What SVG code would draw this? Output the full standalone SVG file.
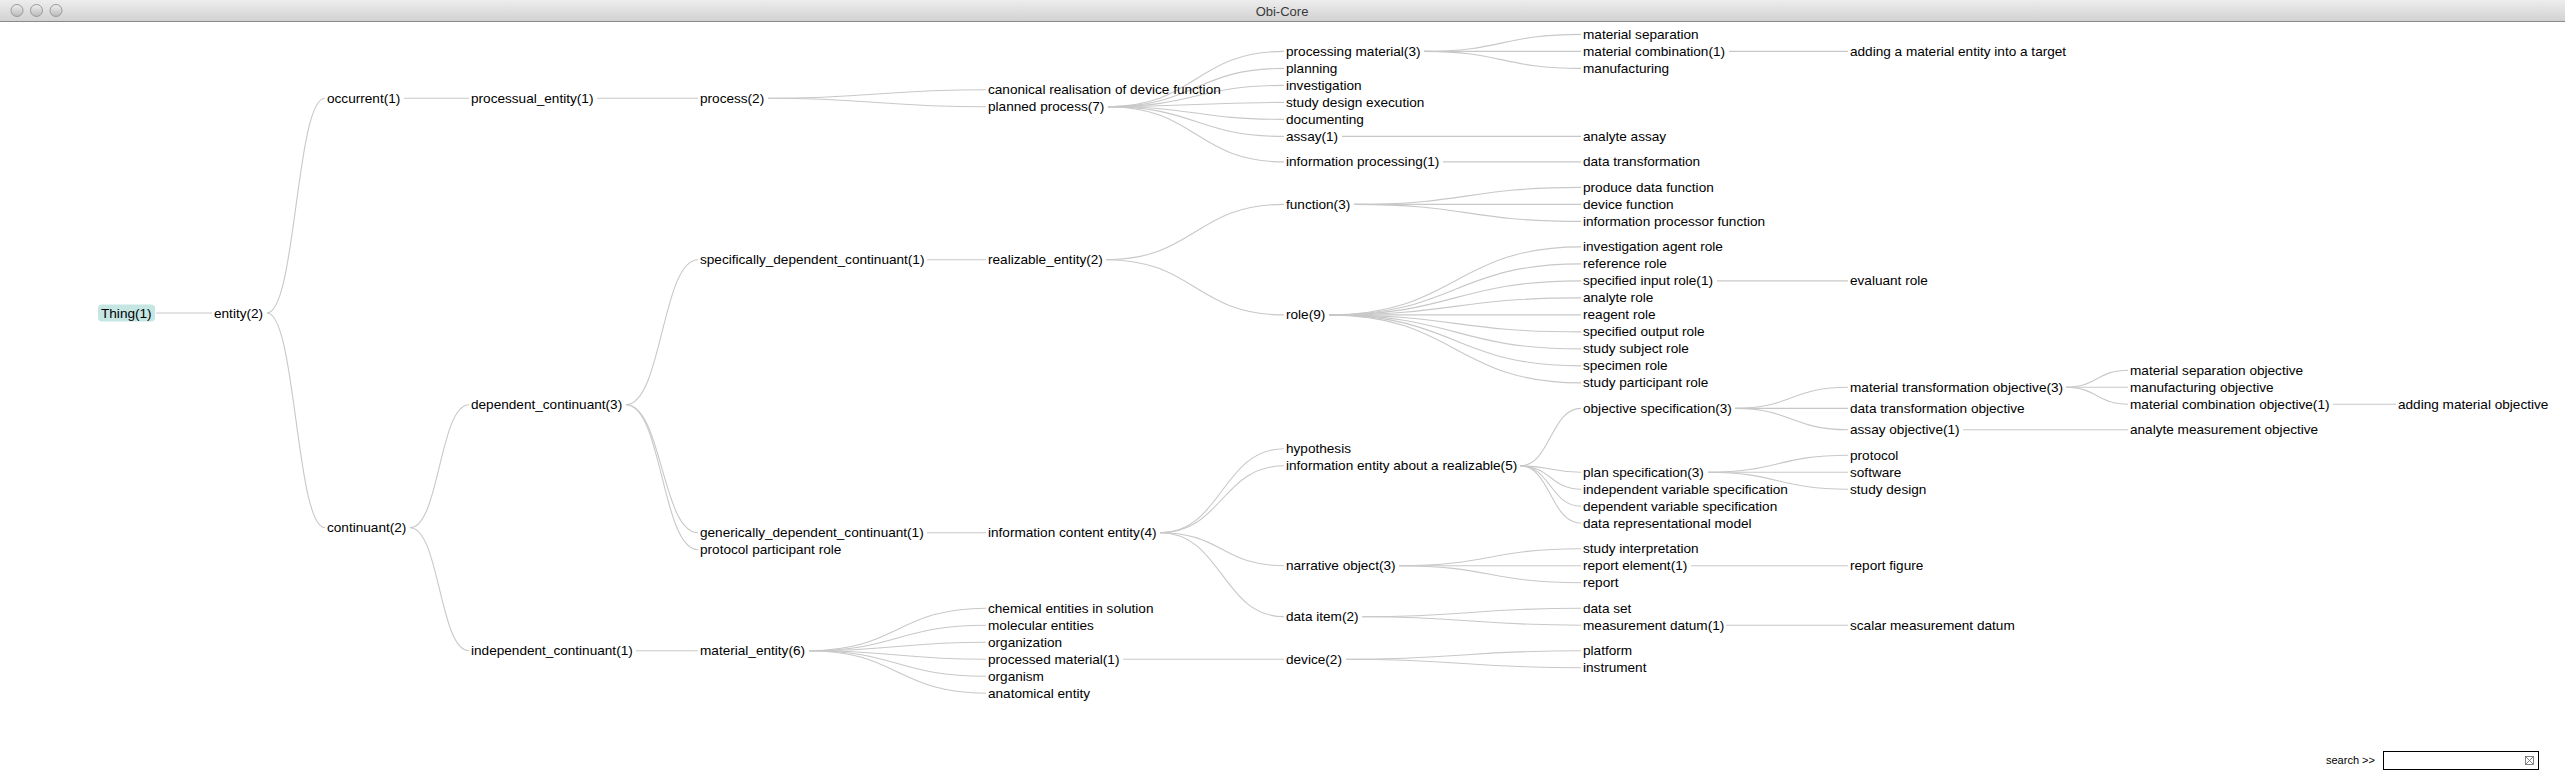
<svg xmlns="http://www.w3.org/2000/svg" width="2565" height="774" viewBox="0 0 2565 774">
<defs>
<linearGradient id="tb" x1="0" y1="0" x2="0" y2="1"><stop offset="0" stop-color="#ededed"/><stop offset="1" stop-color="#d2d2d2"/></linearGradient>
<linearGradient id="btn" x1="0" y1="0" x2="0" y2="1"><stop offset="0" stop-color="#f0f0f0"/><stop offset="1" stop-color="#b9b9b9"/></linearGradient>
<style>
text{font-family:"Liberation Sans",Arial,sans-serif;font-size:13.6px;fill:#000;dominant-baseline:central}
.title{font-size:13px;fill:#3a3a3a;text-anchor:middle}
.search{font-size:11px}
#links path{fill:none;stroke:#c8c8c8;stroke-width:1.1}
</style>
</defs>
<rect width="2565" height="774" fill="#fff"/>
<g id="titlebar">
<rect x="0" y="0" width="2565" height="21" fill="url(#tb)"/>
<line x1="0" y1="21.5" x2="2565" y2="21.5" stroke="#8a8a8a" stroke-width="1.2"/>
<circle cx="17" cy="10.5" r="6" fill="url(#btn)" stroke="#9a9a9a"/>
<circle cx="36.5" cy="10.5" r="6" fill="url(#btn)" stroke="#9a9a9a"/>
<circle cx="56" cy="10.5" r="6" fill="url(#btn)" stroke="#9a9a9a"/>
<text class="title" x="1282" y="11">Obi-Core</text>
</g>
<g id="links">
<path d="M156,313 L212,313"/>
<path d="M267,313 C296,313 296,98.2 325,98.2"/>
<path d="M267,313 C296,313 296,527.7 325,527.7"/>
<path d="M404,98.2 L469,98.2"/>
<path d="M597,98.2 L698,98.2"/>
<path d="M768,98.2 C877,98.2 877,89.7 986,89.7"/>
<path d="M768,98.2 C877,98.2 877,106.7 986,106.7"/>
<path d="M1108,106.7 C1196,106.7 1196,51.4 1284,51.4"/>
<path d="M1108,106.7 C1196,106.7 1196,68.4 1284,68.4"/>
<path d="M1108,106.7 C1196,106.7 1196,85.4 1284,85.4"/>
<path d="M1108,106.7 C1196,106.7 1196,102.4 1284,102.4"/>
<path d="M1108,106.7 C1196,106.7 1196,119.4 1284,119.4"/>
<path d="M1108,106.7 C1196,106.7 1196,136.4 1284,136.4"/>
<path d="M1108,106.7 C1196,106.7 1196,161.9 1284,161.9"/>
<path d="M1424,51.4 C1502.5,51.4 1502.5,34.4 1581,34.4"/>
<path d="M1424,51.4 L1581,51.4"/>
<path d="M1424,51.4 C1502.5,51.4 1502.5,68.4 1581,68.4"/>
<path d="M1729,51.4 L1848,51.4"/>
<path d="M1342,136.4 L1581,136.4"/>
<path d="M1443,161.9 L1581,161.9"/>
<path d="M410,527.7 C439.5,527.7 439.5,404.7 469,404.7"/>
<path d="M410,527.7 C439.5,527.7 439.5,650.7 469,650.7"/>
<path d="M626,404.7 C662,404.7 662,259.7 698,259.7"/>
<path d="M626,404.7 C662,404.7 662,532.7 698,532.7"/>
<path d="M626,404.7 C662,404.7 662,549.7 698,549.7"/>
<path d="M927,259.7 L986,259.7"/>
<path d="M1106,259.7 C1195,259.7 1195,204.4 1284,204.4"/>
<path d="M1106,259.7 C1195,259.7 1195,314.9 1284,314.9"/>
<path d="M1354,204.4 C1467.5,204.4 1467.5,187.4 1581,187.4"/>
<path d="M1354,204.4 L1581,204.4"/>
<path d="M1354,204.4 C1467.5,204.4 1467.5,221.4 1581,221.4"/>
<path d="M1329,314.9 C1455,314.9 1455,246.9 1581,246.9"/>
<path d="M1329,314.9 C1455,314.9 1455,263.9 1581,263.9"/>
<path d="M1329,314.9 C1455,314.9 1455,280.9 1581,280.9"/>
<path d="M1329,314.9 C1455,314.9 1455,297.9 1581,297.9"/>
<path d="M1329,314.9 L1581,314.9"/>
<path d="M1329,314.9 C1455,314.9 1455,331.9 1581,331.9"/>
<path d="M1329,314.9 C1455,314.9 1455,348.9 1581,348.9"/>
<path d="M1329,314.9 C1455,314.9 1455,365.9 1581,365.9"/>
<path d="M1329,314.9 C1455,314.9 1455,382.9 1581,382.9"/>
<path d="M1717,280.9 L1848,280.9"/>
<path d="M927,532.7 L986,532.7"/>
<path d="M1160,532.7 C1222,532.7 1222,448.8 1284,448.8"/>
<path d="M1160,532.7 C1222,532.7 1222,465.8 1284,465.8"/>
<path d="M1160,532.7 C1222,532.7 1222,565.7 1284,565.7"/>
<path d="M1160,532.7 C1222,532.7 1222,616.7 1284,616.7"/>
<path d="M1520,465.8 C1550.5,465.8 1550.5,408.4 1581,408.4"/>
<path d="M1520,465.8 C1550.5,465.8 1550.5,472.2 1581,472.2"/>
<path d="M1520,465.8 C1550.5,465.8 1550.5,489.2 1581,489.2"/>
<path d="M1520,465.8 C1550.5,465.8 1550.5,506.2 1581,506.2"/>
<path d="M1520,465.8 C1550.5,465.8 1550.5,523.2 1581,523.2"/>
<path d="M1735,408.4 C1791.5,408.4 1791.5,387.2 1848,387.2"/>
<path d="M1735,408.4 L1848,408.4"/>
<path d="M1735,408.4 C1791.5,408.4 1791.5,429.7 1848,429.7"/>
<path d="M2066,387.2 C2097,387.2 2097,370.2 2128,370.2"/>
<path d="M2066,387.2 L2128,387.2"/>
<path d="M2066,387.2 C2097,387.2 2097,404.2 2128,404.2"/>
<path d="M2333,404.2 L2396,404.2"/>
<path d="M1963,429.7 L2128,429.7"/>
<path d="M1708,472.2 C1778,472.2 1778,455.2 1848,455.2"/>
<path d="M1708,472.2 L1848,472.2"/>
<path d="M1708,472.2 C1778,472.2 1778,489.2 1848,489.2"/>
<path d="M1399,565.7 C1490,565.7 1490,548.7 1581,548.7"/>
<path d="M1399,565.7 L1581,565.7"/>
<path d="M1399,565.7 C1490,565.7 1490,582.7 1581,582.7"/>
<path d="M1691,565.7 L1848,565.7"/>
<path d="M1362,616.7 C1471.5,616.7 1471.5,608.2 1581,608.2"/>
<path d="M1362,616.7 C1471.5,616.7 1471.5,625.2 1581,625.2"/>
<path d="M1726,625.2 L1848,625.2"/>
<path d="M636,650.7 L698,650.7"/>
<path d="M809,650.7 C897.5,650.7 897.5,608.2 986,608.2"/>
<path d="M809,650.7 C897.5,650.7 897.5,625.2 986,625.2"/>
<path d="M809,650.7 C897.5,650.7 897.5,642.2 986,642.2"/>
<path d="M809,650.7 C897.5,650.7 897.5,659.2 986,659.2"/>
<path d="M809,650.7 C897.5,650.7 897.5,676.2 986,676.2"/>
<path d="M809,650.7 C897.5,650.7 897.5,693.2 986,693.2"/>
<path d="M1123,659.2 L1284,659.2"/>
<path d="M1346,659.2 C1463.5,659.2 1463.5,650.7 1581,650.7"/>
<path d="M1346,659.2 C1463.5,659.2 1463.5,667.7 1581,667.7"/>
</g>
<g id="n-thing"><rect x="98" y="304.5" width="57" height="17" rx="4" fill="#c6e6e4"/><text x="101" y="313">Thing(1)</text></g>
<g id="n-entity"><text x="214" y="313">entity(2)</text></g>
<g id="n-occurrent"><text x="327" y="98.2">occurrent(1)</text></g>
<g id="n-continuant"><text x="327" y="527.7">continuant(2)</text></g>
<g id="n-processual-entity"><text x="471" y="98.2">processual_entity(1)</text></g>
<g id="n-dependent-continuant"><text x="471" y="404.7">dependent_continuant(3)</text></g>
<g id="n-independent-continuant"><text x="471" y="650.7">independent_continuant(1)</text></g>
<g id="n-process"><text x="700" y="98.2">process(2)</text></g>
<g id="n-specifically-dependent-continuant"><text x="700" y="259.7">specifically_dependent_continuant(1)</text></g>
<g id="n-generically-dependent-continuant"><text x="700" y="532.7">generically_dependent_continuant(1)</text></g>
<g id="n-protocol-participant-role"><text x="700" y="549.7">protocol participant role</text></g>
<g id="n-material-entity"><text x="700" y="650.7">material_entity(6)</text></g>
<g id="n-canonical-realisation"><text x="988" y="89.7">canonical realisation of device function</text></g>
<g id="n-planned-process"><text x="988" y="106.7">planned process(7)</text></g>
<g id="n-realizable-entity"><text x="988" y="259.7">realizable_entity(2)</text></g>
<g id="n-information-content-entity"><text x="988" y="532.7">information content entity(4)</text></g>
<g id="n-chemical-entities"><text x="988" y="608.2">chemical entities in solution</text></g>
<g id="n-molecular-entities"><text x="988" y="625.2">molecular entities</text></g>
<g id="n-organization"><text x="988" y="642.2">organization</text></g>
<g id="n-processed-material"><text x="988" y="659.2">processed material(1)</text></g>
<g id="n-organism"><text x="988" y="676.2">organism</text></g>
<g id="n-anatomical-entity"><text x="988" y="693.2">anatomical entity</text></g>
<g id="n-processing-material"><text x="1286" y="51.4">processing material(3)</text></g>
<g id="n-planning"><text x="1286" y="68.4">planning</text></g>
<g id="n-investigation"><text x="1286" y="85.4">investigation</text></g>
<g id="n-study-design-execution"><text x="1286" y="102.4">study design execution</text></g>
<g id="n-documenting"><text x="1286" y="119.4">documenting</text></g>
<g id="n-assay"><text x="1286" y="136.4">assay(1)</text></g>
<g id="n-information-processing"><text x="1286" y="161.9">information processing(1)</text></g>
<g id="n-function"><text x="1286" y="204.4">function(3)</text></g>
<g id="n-role"><text x="1286" y="314.9">role(9)</text></g>
<g id="n-hypothesis"><text x="1286" y="448.8">hypothesis</text></g>
<g id="n-info-entity-realizable"><text x="1286" y="465.8">information entity about a realizable(5)</text></g>
<g id="n-narrative-object"><text x="1286" y="565.7">narrative object(3)</text></g>
<g id="n-data-item"><text x="1286" y="616.7">data item(2)</text></g>
<g id="n-device"><text x="1286" y="659.2">device(2)</text></g>
<g id="n-material-separation"><text x="1583" y="34.4">material separation</text></g>
<g id="n-material-combination"><text x="1583" y="51.4">material combination(1)</text></g>
<g id="n-manufacturing"><text x="1583" y="68.4">manufacturing</text></g>
<g id="n-analyte-assay"><text x="1583" y="136.4">analyte assay</text></g>
<g id="n-data-transformation"><text x="1583" y="161.9">data transformation</text></g>
<g id="n-produce-data-function"><text x="1583" y="187.4">produce data function</text></g>
<g id="n-device-function"><text x="1583" y="204.4">device function</text></g>
<g id="n-information-processor-function"><text x="1583" y="221.4">information processor function</text></g>
<g id="n-investigation-agent-role"><text x="1583" y="246.9">investigation agent role</text></g>
<g id="n-reference-role"><text x="1583" y="263.9">reference role</text></g>
<g id="n-specified-input-role"><text x="1583" y="280.9">specified input role(1)</text></g>
<g id="n-analyte-role"><text x="1583" y="297.9">analyte role</text></g>
<g id="n-reagent-role"><text x="1583" y="314.9">reagent role</text></g>
<g id="n-specified-output-role"><text x="1583" y="331.9">specified output role</text></g>
<g id="n-study-subject-role"><text x="1583" y="348.9">study subject role</text></g>
<g id="n-specimen-role"><text x="1583" y="365.9">specimen role</text></g>
<g id="n-study-participant-role"><text x="1583" y="382.9">study participant role</text></g>
<g id="n-objective-specification"><text x="1583" y="408.4">objective specification(3)</text></g>
<g id="n-plan-specification"><text x="1583" y="472.2">plan specification(3)</text></g>
<g id="n-independent-variable-specification"><text x="1583" y="489.2">independent variable specification</text></g>
<g id="n-dependent-variable-specification"><text x="1583" y="506.2">dependent variable specification</text></g>
<g id="n-data-representational-model"><text x="1583" y="523.2">data representational model</text></g>
<g id="n-study-interpretation"><text x="1583" y="548.7">study interpretation</text></g>
<g id="n-report-element"><text x="1583" y="565.7">report element(1)</text></g>
<g id="n-report"><text x="1583" y="582.7">report</text></g>
<g id="n-data-set"><text x="1583" y="608.2">data set</text></g>
<g id="n-measurement-datum"><text x="1583" y="625.2">measurement datum(1)</text></g>
<g id="n-platform"><text x="1583" y="650.7">platform</text></g>
<g id="n-instrument"><text x="1583" y="667.7">instrument</text></g>
<g id="n-adding-material-entity"><text x="1850" y="51.4">adding a material entity into a target</text></g>
<g id="n-evaluant-role"><text x="1850" y="280.9">evaluant role</text></g>
<g id="n-material-transformation-objective"><text x="1850" y="387.2">material transformation objective(3)</text></g>
<g id="n-data-transformation-objective"><text x="1850" y="408.4">data transformation objective</text></g>
<g id="n-assay-objective"><text x="1850" y="429.7">assay objective(1)</text></g>
<g id="n-protocol"><text x="1850" y="455.2">protocol</text></g>
<g id="n-software"><text x="1850" y="472.2">software</text></g>
<g id="n-study-design"><text x="1850" y="489.2">study design</text></g>
<g id="n-report-figure"><text x="1850" y="565.7">report figure</text></g>
<g id="n-scalar-measurement-datum"><text x="1850" y="625.2">scalar measurement datum</text></g>
<g id="n-material-separation-objective"><text x="2130" y="370.2">material separation objective</text></g>
<g id="n-manufacturing-objective"><text x="2130" y="387.2">manufacturing objective</text></g>
<g id="n-material-combination-objective"><text x="2130" y="404.2">material combination objective(1)</text></g>
<g id="n-analyte-measurement-objective"><text x="2130" y="429.7">analyte measurement objective</text></g>
<g id="n-adding-material-objective"><text x="2398" y="404.2">adding material objective</text></g>
<g id="search">
<text class="search" x="2326" y="760">search &gt;&gt;</text>
<rect x="2383.5" y="751.5" width="155" height="18" fill="#fff" stroke="#000"/>
<rect x="2525.5" y="756.5" width="8" height="8" fill="none" stroke="#666" stroke-width="0.8"/>
<path d="M2526,757 L2533,764 M2533,757 L2526,764" stroke="#666" stroke-width="0.8"/>
</g>
</svg>
